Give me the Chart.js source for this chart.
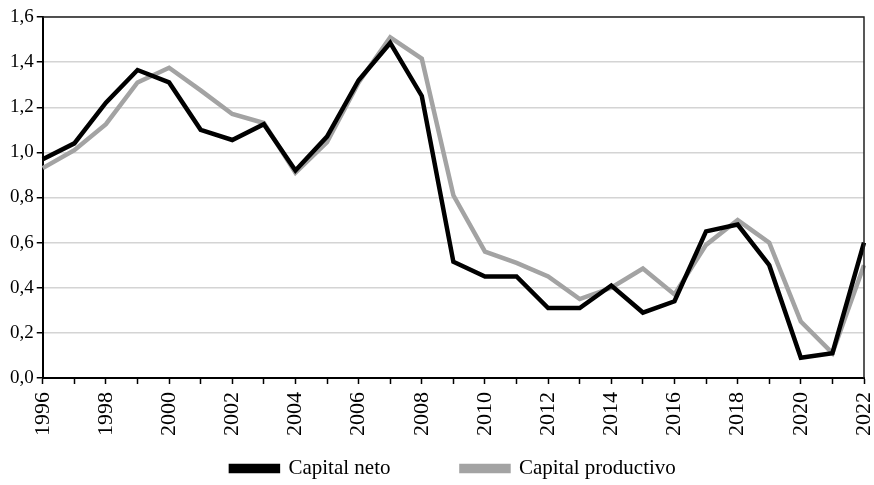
<!DOCTYPE html>
<html>
<head>
<meta charset="utf-8">
<script src="https://cdn.jsdelivr.net/npm/chart.js@4.4.1/dist/chart.umd.min.js"></script>
<style>
  html,body{margin:0;padding:0;background:#fff;}
  #wrap{width:874px;height:485px;}
</style>
</head>
<body>
<div id="wrap"><canvas id="chart" width="874" height="485"></canvas></div>
<script>
const years = ["1996","1997","1998","1999","2000","2001","2002","2003","2004","2005","2006","2007","2008","2009","2010","2011","2012","2013","2014","2015","2016","2017","2018","2019","2020","2021","2022"];

const capitalNeto = [0.97,1.04,1.22,1.365,1.31,1.10,1.055,1.125,0.92,1.07,1.32,1.485,1.25,0.515,0.45,0.45,0.31,0.31,0.41,0.29,0.34,0.65,0.68,0.50,0.09,0.11,0.60];
const capitalProductivo = [0.93,1.01,1.125,1.31,1.375,1.275,1.17,1.13,0.91,1.045,1.31,1.51,1.415,0.81,0.56,0.51,0.45,0.35,0.40,0.485,0.37,0.59,0.70,0.60,0.25,0.11,0.50];

const FONT = "'Liberation Serif', 'Times New Roman', serif";

/* marco superior y derecho */
const frame = {
  id:"frame",
  afterDraw(chart){
    const a = chart.chartArea, c = chart.ctx;
    c.save();
    c.strokeStyle = "#222";
    c.lineWidth = 1.5;
    c.beginPath();
    c.moveTo(a.left, a.top);
    c.lineTo(a.right, a.top);
    c.lineTo(a.right, a.bottom);
    c.stroke();
    c.restore();
  }
};

new Chart(document.getElementById("chart"),{
  type:"line",
  data:{
    labels:years,
    datasets:[
      {label:"Capital neto\u2003\u2003\u2003", data:capitalNeto, borderColor:"#000", backgroundColor:"#000", borderWidth:4.5, pointRadius:0, tension:0},
      {label:"Capital productivo", data:capitalProductivo, borderColor:"#a3a3a3", backgroundColor:"#a3a3a3", borderWidth:4.5, pointRadius:0, tension:0}
    ]
  },
  options:{
    responsive:false,
    animation:false,
    layout:{padding:{top:17, right:10, left:7, bottom:-4}},
    plugins:{
      legend:{
        position:"bottom",
        fullSize:false,
        labels:{
          font:{family:FONT, size:21},
          color:"#000",
          boxWidth:47,
          boxHeight:5,
          padding:8
        }
      },
      tooltip:{enabled:false}
    },
    scales:{
      x:{
        offset:false,
        afterFit:function(s){ s.paddingRight = 0; s.height = 72; },
        grid:{drawOnChartArea:false, color:"#000", tickLength:6, tickWidth:1.5},
        border:{color:"#000", width:2},
        ticks:{
          autoSkip:false,
          maxRotation:90, minRotation:90,
          color:"#000",
          font:{family:FONT, size:22},
          padding:8,
          callback:function(v,i){ return i % 2 === 0 ? years[i] : ""; }
        }
      },
      y:{
        min:0, max:1.6,
        grid:{color:"#d4d4d4", lineWidth:1.5, tickColor:"#000", tickLength:6},
        border:{color:"#000", width:2},
        ticks:{
          stepSize:0.2,
          color:"#000",
          font:{family:FONT, size:19},
          padding:3,
          callback:function(v){ return v.toFixed(1).replace(".", ","); }
        }
      }
    }
  },
  plugins:[frame]
});
</script>
</body>
</html>
